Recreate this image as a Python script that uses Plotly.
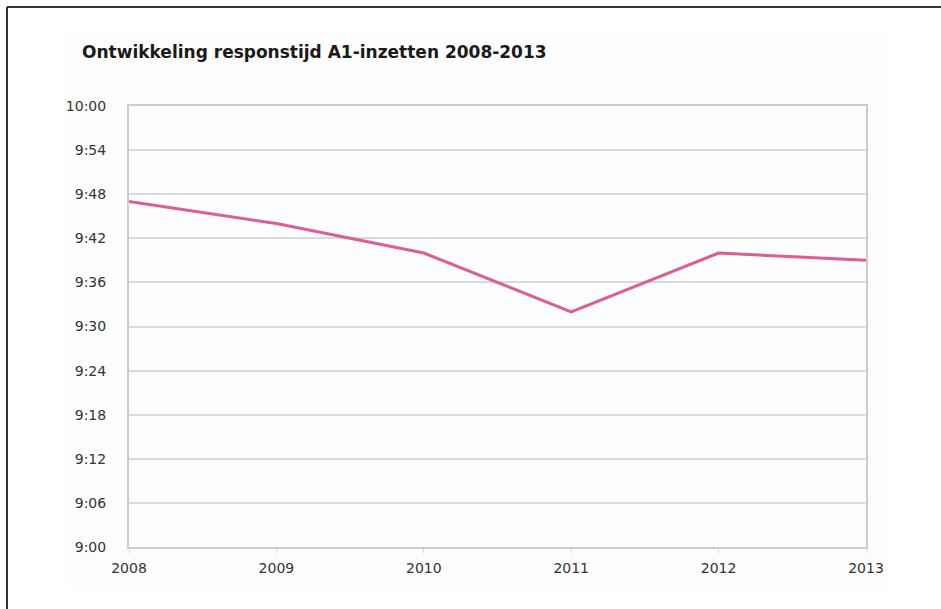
import plotly.graph_objects as go

# Jaarlijkse gemiddelde responstijd A1-inzetten (minuten na 0:00, 540 = 9:00)
years = [2008, 2009, 2010, 2011, 2012, 2013]
response_minutes = [587, 584, 580, 572, 580, 579]  # 9:47, 9:44, 9:40, 9:32, 9:40, 9:39

tick_minutes = [540, 546, 552, 558, 564, 570, 576, 582, 588, 594, 600]
tick_labels = ["9:00", "9:06", "9:12", "9:18", "9:24", "9:30",
               "9:36", "9:42", "9:48", "9:54", "10:00"]
title_text = "Ontwikkeling responstijd A1-inzetten 2008-2013"

W, H = 941, 609
ML, MR, MT, MB = 129, 75, 106, 62

fig = go.Figure()
fig.add_trace(go.Scatter(
    x=years, y=response_minutes, mode="lines",
    line=dict(color="#dc5f93", width=3),
    hoverinfo="skip", showlegend=False,
))

font_family = "DejaVu Sans, Verdana, sans-serif"

fig.update_layout(
    width=W, height=H,
    margin=dict(l=ML, r=MR, t=MT, b=MB),
    paper_bgcolor="white",
    plot_bgcolor="white",
    xaxis=dict(
        range=[years[0], years[-1]],
        tickvals=years,
        ticktext=[str(y) for y in years],
        showgrid=False, zeroline=False,
        showline=True, linecolor="#cccccc", linewidth=2, mirror=True,
        ticks="outside", ticklen=4, tickcolor="#d8d8d8",
        tickfont=dict(family=font_family, size=14, color="#333333"),
        ticklabelstandoff=3,
    ),
    yaxis=dict(
        range=[540, 600],
        tickvals=tick_minutes,
        ticktext=tick_labels,
        showgrid=True, gridcolor="#dadada", gridwidth=1.5,
        zeroline=False,
        showline=True, linecolor="#cccccc", linewidth=2, mirror=True,
        ticks="", ticklabelstandoff=18,
        tickfont=dict(family=font_family, size=14, color="#333333"),
    ),
    annotations=[dict(
        text="<b>" + title_text + "</b>",
        xref="paper", yref="paper",
        x=(80 - ML) / (W - ML - MR),
        y=1 + (MT - 52) / (H - MT - MB),
        xanchor="left", yanchor="middle", showarrow=False,
        font=dict(family=font_family, size=17, color="#1a1a1a"),
    )],
)

pw = W - ML - MR
ph = H - MT - MB


def px_x(p):
    return (p - ML) / pw


def px_y(p):
    return 1 - (p - MT) / ph


# zachte achtergrond van het grafiekvlak
fig.add_shape(type="rect", xref="paper", yref="paper", layer="below",
              x0=px_x(67), x1=px_x(890), y0=px_y(587), y1=px_y(32),
              fillcolor="#fdfdfd", line=dict(width=0))
# kaderlijnen links en boven
fig.add_shape(type="line", xref="paper", yref="paper",
              x0=px_x(7), x1=px_x(960), y0=px_y(7), y1=px_y(7),
              line=dict(color="#333333", width=2))
fig.add_shape(type="line", xref="paper", yref="paper",
              x0=px_x(7), x1=px_x(7), y0=px_y(7), y1=px_y(640),
              line=dict(color="#333333", width=2))

fig.write_html("out.html")
